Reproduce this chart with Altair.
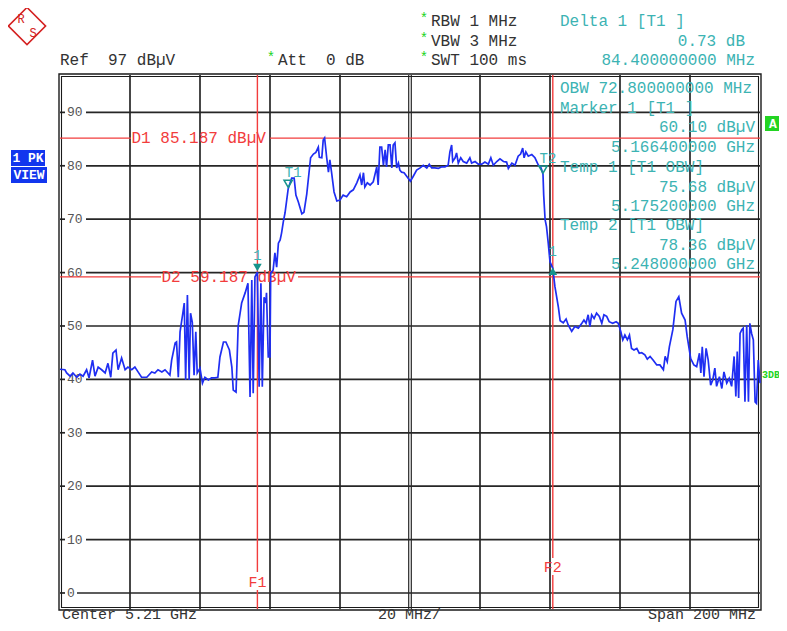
import altair as alt
import pandas as pd

# ---------------- instrument settings ----------------
center_mhz = 5210.0
span_mhz = 200.0
ref_level = 97.0          # dBµV, top of the screen
range_db = 100.0
start_mhz = center_mhz - span_mhz / 2

grid_levels = [10, 20, 30, 40, 50, 60, 70, 80, 90]
zero_level = [0]
grid_freqs = [5130, 5150, 5170, 5190, 5230, 5250, 5270, 5290]
center_freq = [5210]

# ---------------- trace (MHz from start frequency, dBµV) ----------------
lower_band = [
    (0.0, 41.9), (1.4, 41.8), (1.9, 41.2), (2.9, 40.6), (3.7, 41.2), (4.8, 40.4), (5.7, 41.0),
    (6.6, 40.6), (7.6, 41.8), (8.3, 40.3), (9.3, 43.6), (10.0, 40.6), (10.9, 42.3), (11.9, 41.8),
    (12.9, 41.2), (13.7, 43.0), (14.5, 40.4), (15.1, 44.9), (16.0, 45.5), (16.6, 41.8), (17.6, 44.0),
    (18.6, 41.8), (19.4, 42.3), (20.5, 41.8), (21.4, 42.3), (22.3, 41.4), (23.3, 40.4), (24.8, 40.4),
    (26.2, 41.4), (27.1, 41.2), (28.0, 41.8), (29.1, 41.4), (30.0, 41.8), (31.4, 40.8), (31.9, 43.6),
    (32.9, 46.8), (33.3, 47.0), (33.8, 40.4), (34.3, 48.9), (35.1, 52.4), (35.5, 54.3), (35.9, 39.9),
    (36.4, 55.8), (36.9, 39.9), (37.3, 52.4), (37.8, 50.7), (38.3, 40.8), (38.8, 48.9), (39.2, 41.2),
    (40.0, 42.1), (40.7, 39.3), (41.4, 40.4), (42.4, 39.9), (43.3, 40.3), (44.3, 40.3), (45.1, 40.4),
    (45.7, 44.2), (46.7, 47.0), (47.4, 47.0), (48.4, 45.5), (49.1, 42.3), (49.5, 38.0), (50.3, 37.6),
]
rising_edge = [
    (50.9, 50.0), (51.9, 54.3), (52.9, 56.2), (53.7, 58.0), (54.3, 36.7), (54.8, 58.6), (55.2, 37.4),
    (55.7, 59.2), (56.4, 60.1), (56.9, 38.6), (57.4, 58.0), (57.8, 38.6), (58.3, 55.4), (58.8, 54.3),
    (59.0, 56.2), (59.5, 44.2), (60.0, 44.2), (60.2, 59.9), (60.9, 60.5), (61.4, 63.7), (61.9, 61.0),
    (62.4, 65.5), (62.9, 66.1), (63.3, 67.4), (63.8, 69.5), (64.3, 71.2), (65.2, 75.7),
]
in_band = [
    (66.2, 77.7), (66.9, 77.7), (67.4, 74.5), (68.1, 73.2), (69.1, 71.0), (69.7, 71.3), (70.5, 74.7),
    (71.6, 81.5), (72.4, 82.2), (73.1, 82.5), (73.8, 83.5), (74.1, 81.6), (74.8, 81.5), (75.2, 84.8),
    (75.6, 85.2), (76.2, 81.5), (76.7, 78.8), (77.1, 81.1), (77.6, 78.7), (78.3, 75.1), (79.1, 73.4),
    (80.0, 73.6), (80.9, 74.5), (81.9, 74.2), (82.9, 75.1), (83.8, 75.5), (84.8, 76.8), (85.7, 78.3),
    (86.2, 76.4), (86.7, 78.7), (87.1, 76.0), (87.8, 76.8), (88.6, 76.4), (89.5, 77.0), (90.5, 79.8),
    (90.9, 76.4), (91.4, 83.5), (91.9, 83.5), (92.4, 80.1), (92.9, 83.0), (93.3, 79.8), (93.8, 83.9),
    (94.3, 83.9), (94.8, 79.6), (95.2, 83.9), (95.7, 84.3), (96.2, 79.6), (96.7, 80.5), (97.1, 79.2),
    (97.6, 78.8), (98.3, 78.7), (99.1, 78.0), (100.1, 77.1), (100.9, 78.0), (101.9, 79.2), (102.9, 79.6),
    (103.8, 80.1), (104.8, 79.6), (105.5, 80.3), (106.2, 79.6), (107.1, 79.6), (108.1, 79.5), (109.1, 79.8),
    (110.0, 79.8), (110.9, 80.1), (111.4, 82.6), (111.9, 83.9), (112.2, 80.8), (112.9, 81.5), (113.3, 82.4),
    (113.8, 80.5), (114.5, 81.5), (115.2, 80.8), (116.2, 80.5), (117.1, 81.5), (117.6, 80.5), (118.6, 80.8),
    (119.5, 80.3), (120.5, 80.3), (121.4, 80.7), (122.4, 80.3), (123.1, 81.5), (123.8, 80.1), (124.8, 80.8),
    (125.7, 81.3), (126.7, 80.8), (127.6, 80.7), (128.1, 79.5), (129.1, 80.5), (130.0, 80.1), (130.9, 81.8),
    (131.6, 82.2), (132.2, 83.3), (132.6, 81.5), (133.1, 82.6), (133.8, 81.8), (134.8, 82.1), (135.7, 81.5),
    (136.7, 80.1), (137.3, 79.8), (137.6, 79.3),
]
upper_band = [
    (138.0, 78.4), (138.2, 74.5), (138.6, 69.9), (139.0, 68.6), (139.5, 65.5), (140.0, 62.0), (140.8, 60.8),
    (141.4, 57.4), (142.4, 53.5), (142.9, 51.0), (143.8, 50.6), (144.6, 51.3), (145.2, 50.2), (146.2, 49.0),
    (147.1, 49.9), (148.1, 49.6), (149.1, 50.5), (149.7, 51.1), (150.3, 50.5), (150.9, 52.1), (151.4, 49.9),
    (151.9, 52.1), (152.6, 51.4), (153.3, 52.4), (154.1, 51.8), (154.8, 50.5), (155.4, 52.1), (156.2, 51.8),
    (156.9, 50.8), (157.9, 50.5), (158.9, 50.8), (159.5, 50.5), (160.2, 49.0), (160.8, 47.4), (161.4, 48.3),
    (162.1, 47.4), (162.7, 48.3), (163.3, 45.8), (164.0, 45.5), (164.8, 45.8), (165.5, 44.9), (166.2, 45.0),
    (167.1, 44.6), (167.8, 43.8), (168.6, 44.3), (169.5, 43.6), (170.5, 42.7), (171.4, 42.7), (172.4, 41.8),
    (172.9, 44.3), (173.5, 43.3), (174.1, 46.1), (175.1, 49.3), (176.0, 54.6), (176.8, 55.5), (177.6, 52.4),
    (178.6, 51.1), (179.2, 48.0), (180.2, 43.9), (181.1, 42.7), (181.9, 42.4), (182.7, 44.9), (183.1, 41.2),
    (183.5, 46.1), (184.0, 40.5), (184.6, 45.8), (185.2, 43.6), (185.9, 38.9), (186.5, 39.9), (187.1, 42.1),
    (187.6, 38.7), (188.4, 40.5), (189.1, 38.3), (189.7, 41.4), (190.5, 39.3), (191.2, 40.2), (191.9, 38.7),
    (192.6, 44.3), (193.1, 36.8), (193.5, 45.2), (193.9, 36.5), (194.3, 48.6), (194.8, 49.3), (195.2, 49.6),
    (195.7, 35.8), (196.2, 50.2), (196.7, 35.8), (197.1, 50.5), (197.6, 48.6), (198.1, 47.4), (198.6, 35.8),
    (199.0, 35.5), (199.5, 43.6), (200.0, 39.3),
]

# ---------------- markers / lines ----------------
marker1_mhz, marker1_db = 5166.4, 60.10
temp1_mhz, temp1_db = 5175.2, 75.68
temp2_mhz, temp2_db = 5248.0, 78.36
delta_mhz, delta_db = 84.4, 0.73
obw_mhz = 72.8
d1_level, d2_level = 85.187, 59.187
f1_mhz, f2_mhz = 5166.4, 5250.8

# ---------------- styling ----------------
MONO = "Liberation Mono"
NB = "\u00a0"
TRACE = "#1f2ef2"
RED = "#f23c3c"
TEAL = "#3cb3b3"
MTEAL = "#17948c"
GRID = "#262626"
TXT = "#333333"
LBL = "#555555"
GREEN = "#22d422"
BOXBLUE = "#1236ee"
W, H = 700, 534

pts = lower_band + rising_edge + in_band + upper_band
trace = pd.DataFrame({"off": [p[0] for p in pts], "lvl": [p[1] for p in pts]})
trace["freq"] = start_mhz + trace["off"]

XS = alt.Scale(domain=[start_mhz, start_mhz + span_mhz], nice=False, zero=False)
YS = alt.Scale(domain=[ref_level - range_db, ref_level], nice=False, zero=False)


def X(field):
    return alt.X(field, type="quantitative", scale=XS, axis=None)


def Y(field):
    return alt.Y(field, type="quantitative", scale=YS, axis=None)


def one(**kw):
    return pd.DataFrame({k: [v] for k, v in kw.items()})


def txt(s, x, y, color=TXT, align="left", size=16, weight="normal", baseline="middle"):
    return alt.Chart(one(t=s.replace(" ", NB))).mark_text(
        align=align, baseline=baseline, font=MONO, fontSize=size, fontWeight=weight, color=color
    ).encode(x=alt.value(x), y=alt.value(y), text=alt.Text("t:N"))


def box(x0, y0, x1, y1, color):
    return alt.Chart(one(k=0)).mark_rect(color=color).encode(
        x=alt.value(x0), x2=alt.value(x1), y=alt.value(y0), y2=alt.value(y1))


def frame(x0, y0, x1, y1, width):
    return alt.Chart(one(k=0)).mark_rect(fill="transparent", stroke="#1a1a1a", strokeWidth=width).encode(
        x=alt.value(x0), x2=alt.value(x1), y=alt.value(y0), y2=alt.value(y1))


def hline(level, x0, x1, color, width):
    return alt.Chart(one(lvl=level)).mark_rule(color=color, strokeWidth=width).encode(
        y=Y("lvl"), x=alt.value(x0), x2=alt.value(x1))


def vline(freq, y0, y1, color, width, xoff=0):
    return alt.Chart(one(f=freq)).mark_rule(color=color, strokeWidth=width, xOffset=xoff).encode(
        x=X("f"), y=alt.value(y0), y2=alt.value(y1))


layers = []

# grid
hg = pd.DataFrame({"lvl": grid_levels, "lbl": [str(v) for v in grid_levels]})
z = pd.DataFrame({"lvl": zero_level, "lbl": [str(v) for v in zero_level]})
layers.append(alt.Chart(hg).mark_rule(color=GRID, strokeWidth=1.7).encode(y=Y("lvl"), x=alt.value(26), x2=alt.value(W)))
layers.append(alt.Chart(z).mark_rule(color=GRID, strokeWidth=1.7).encode(y=Y("lvl"), x=alt.value(17), x2=alt.value(W)))
layers.append(alt.Chart(pd.concat([hg, z])).mark_rule(color=GRID, strokeWidth=1.7).encode(y=Y("lvl"), x=alt.value(0), x2=alt.value(5)))
layers.append(alt.Chart(pd.concat([hg, z])).mark_text(align="left", baseline="middle", font=MONO, fontSize=13, color=LBL)
              .encode(y=Y("lvl"), x=alt.value(7), text="lbl:N"))
vg = pd.DataFrame({"f": grid_freqs})
layers.append(alt.Chart(vg).mark_rule(color=GRID, strokeWidth=1.7).encode(x=X("f"), y=alt.value(0), y2=alt.value(H)))
layers.append(vline(center_freq[0], 0, H, GRID, 1.2, -1.3))
layers.append(vline(center_freq[0], 0, H, GRID, 1.2, 1.3))
layers.append(frame(-1, -1, W + 1, H + 1, 1.4))
layers.append(frame(1.5, 1.5, W - 1.5, H - 1.5, 1.1))

# display lines D1 / D2 and frequency lines F1 / F2
layers.append(hline(d1_level, 0, 71, RED, 1.4))
layers.append(hline(d1_level, 210, W, RED, 1.4))
layers.append(alt.Chart(one(lvl=d1_level, t=f"D1 {d1_level:.3f} dBµV".replace(" ", NB))).mark_text(
    align="left", baseline="middle", font=MONO, fontSize=16, color=RED).encode(x=alt.value(71.5), y=Y("lvl"), text="t:N"))
layers.append(hline(d2_level, 0, 101, RED, 1.4))
layers.append(hline(d2_level, 238, W, RED, 1.4))
layers.append(alt.Chart(one(lvl=d2_level, t=f"D2 {d2_level:.3f} dBµV".replace(" ", NB))).mark_text(
    align="left", baseline="middle", font=MONO, fontSize=16, color=RED).encode(x=alt.value(101.5), y=Y("lvl"), text="t:N"))
layers.append(vline(f1_mhz, 0, 497, RED, 1.4))
layers.append(vline(f1_mhz, 515, H, RED, 1.4))
layers.append(alt.Chart(one(f=f1_mhz, t="F1")).mark_text(baseline="middle", font=MONO, fontSize=15, color=RED)
              .encode(x=X("f"), y=alt.value(507), text="t:N"))
layers.append(vline(f2_mhz, 0, 483, RED, 1.4))
layers.append(vline(f2_mhz, 500, H, RED, 1.4))
layers.append(alt.Chart(one(f=f2_mhz, t="F2")).mark_text(baseline="middle", font=MONO, fontSize=15, color=RED)
              .encode(x=X("f"), y=alt.value(492), text="t:N"))

# trace
layers.append(alt.Chart(trace).mark_line(color=TRACE, strokeWidth=1.7).encode(x=X("freq"), y=Y("lvl")))

# markers
d_freq = marker1_mhz + delta_mhz
d_lvl = marker1_db + delta_db
layers.append(alt.Chart(one(f=marker1_mhz, l=marker1_db)).mark_point(
    shape="triangle-down", filled=True, size=75, color=MTEAL, opacity=1, yOffset=-4.5).encode(x=X("f"), y=Y("l")))
layers.append(alt.Chart(one(f=d_freq, l=d_lvl)).mark_point(
    shape="triangle-up", filled=True, size=75, color=MTEAL, opacity=1, yOffset=3).encode(x=X("f"), y=Y("l")))
layers.append(alt.Chart(pd.DataFrame({"f": [temp1_mhz, temp2_mhz], "l": [temp1_db, temp2_db]})).mark_point(
    shape="triangle-down", filled=False, size=70, color=MTEAL, strokeWidth=1.5, opacity=1, yOffset=-5).encode(x=X("f"), y=Y("l")))
mk_lbl = pd.DataFrame({"f": [marker1_mhz, d_freq], "l": [marker1_db, d_lvl], "t": ["1", "1"]})
layers.append(alt.Chart(mk_lbl).mark_text(baseline="middle", font=MONO, fontSize=14, color=TEAL, dy=-16)
              .encode(x=X("f"), y=Y("l"), text="t:N"))
t_lbl = pd.DataFrame({"f": [temp1_mhz, temp2_mhz], "l": [temp1_db, temp2_db], "t": ["T1", "T2"]})
layers.append(alt.Chart(t_lbl).mark_text(baseline="middle", font=MONO, fontSize=14, color=TEAL, dx=5, dy=-16)
              .encode(x=X("f"), y=Y("l"), text="t:N"))

# header texts (pixel positions relative to the plot area)
layers.append(alt.Chart(one(k=0)).mark_point(shape="square", angle=45, size=690, filled=False, color="#d42020",
                                            strokeWidth=1.6, opacity=1).encode(x=alt.value(-33), y=alt.value(-49)))
layers.append(txt("R", -39, -56, "#d42020", "center", 12))
layers.append(txt("S", -27, -42, "#d42020", "center", 12))
layers.append(txt(f"Ref  {ref_level:.0f} dBµV", 0, -15))
layers.append(txt("*", 211, -17, GREEN, "center", 14))
layers.append(txt("Att  0 dB", 218, -15))
for yy, s in [(-54, "RBW 1 MHz"), (-34, "VBW 3 MHz"), (-15, "SWT 100 ms")]:
    layers.append(txt("*", 364, yy - 2, GREEN, "center", 14))
    layers.append(txt(s, 371, yy))
layers.append(txt("Delta 1 [T1 ]", 500, -54, TEAL))
layers.append(txt(f"{delta_db:.2f} dB", 685, -34, TEAL, "right"))
layers.append(txt(f"{delta_mhz:.9f} MHz", 695, -15, TEAL, "right"))

# marker info panel
layers.append(txt(f"OBW {obw_mhz:.9f} MHz", 500, 13, TEAL))
layers.append(txt("Marker 1 [T1 ]", 500, 33, TEAL))
layers.append(txt(f"{marker1_db:.2f} dBµV", 695, 52, TEAL, "right"))
layers.append(txt(f"{marker1_mhz / 1000:.9f} GHz", 695, 72, TEAL, "right"))
layers.append(txt("Temp 1 [T1 OBW]", 500, 92, TEAL))
layers.append(txt(f"{temp1_db:.2f} dBµV", 695, 112, TEAL, "right"))
layers.append(txt(f"{temp1_mhz / 1000:.9f} GHz", 695, 131, TEAL, "right"))
layers.append(txt("Temp 2 [T1 OBW]", 500, 150, TEAL))
layers.append(txt(f"{temp2_db:.2f} dBµV", 695, 170, TEAL, "right"))
layers.append(txt(f"{temp2_mhz / 1000:.9f} GHz", 695, 189, TEAL, "right"))

# side boxes
layers.append(box(-49, 75, -15, 91, BOXBLUE))
layers.append(txt("1 PK", -32, 83, "white", "center", 13, "bold"))
layers.append(box(-49, 92, -13, 108, BOXBLUE))
layers.append(txt("VIEW", -31, 100, "white", "center", 13, "bold"))
layers.append(box(705, 41, 720, 56, GREEN))
layers.append(txt("A", 713, 48.5, "white", "center", 13, "bold"))
layers.append(txt("3DB", 702, 300, GREEN, "left", 10, "bold"))

# footer (baseline just above the bottom edge of the page)
layers.append(txt(f"Center {center_mhz / 1000:.2f} GHz", 2, 544, TXT, "left", 15, baseline="alphabetic"))
layers.append(txt(f"{span_mhz / 10:.0f} MHz/", 318, 544, TXT, "left", 15, baseline="alphabetic"))
layers.append(txt(f"Span {span_mhz:.0f} MHz", 696, 544, TXT, "right", 15, baseline="alphabetic"))

chart = alt.layer(*layers).properties(
    width=W, height=H,
    padding={"left": 52, "top": 67, "right": 19, "bottom": 14},
    autosize=alt.AutoSizeParams(type="none"),
    background="white",
).configure_view(strokeWidth=0)

chart.save("out.html", embed_options={"renderer": "svg", "actions": False})
